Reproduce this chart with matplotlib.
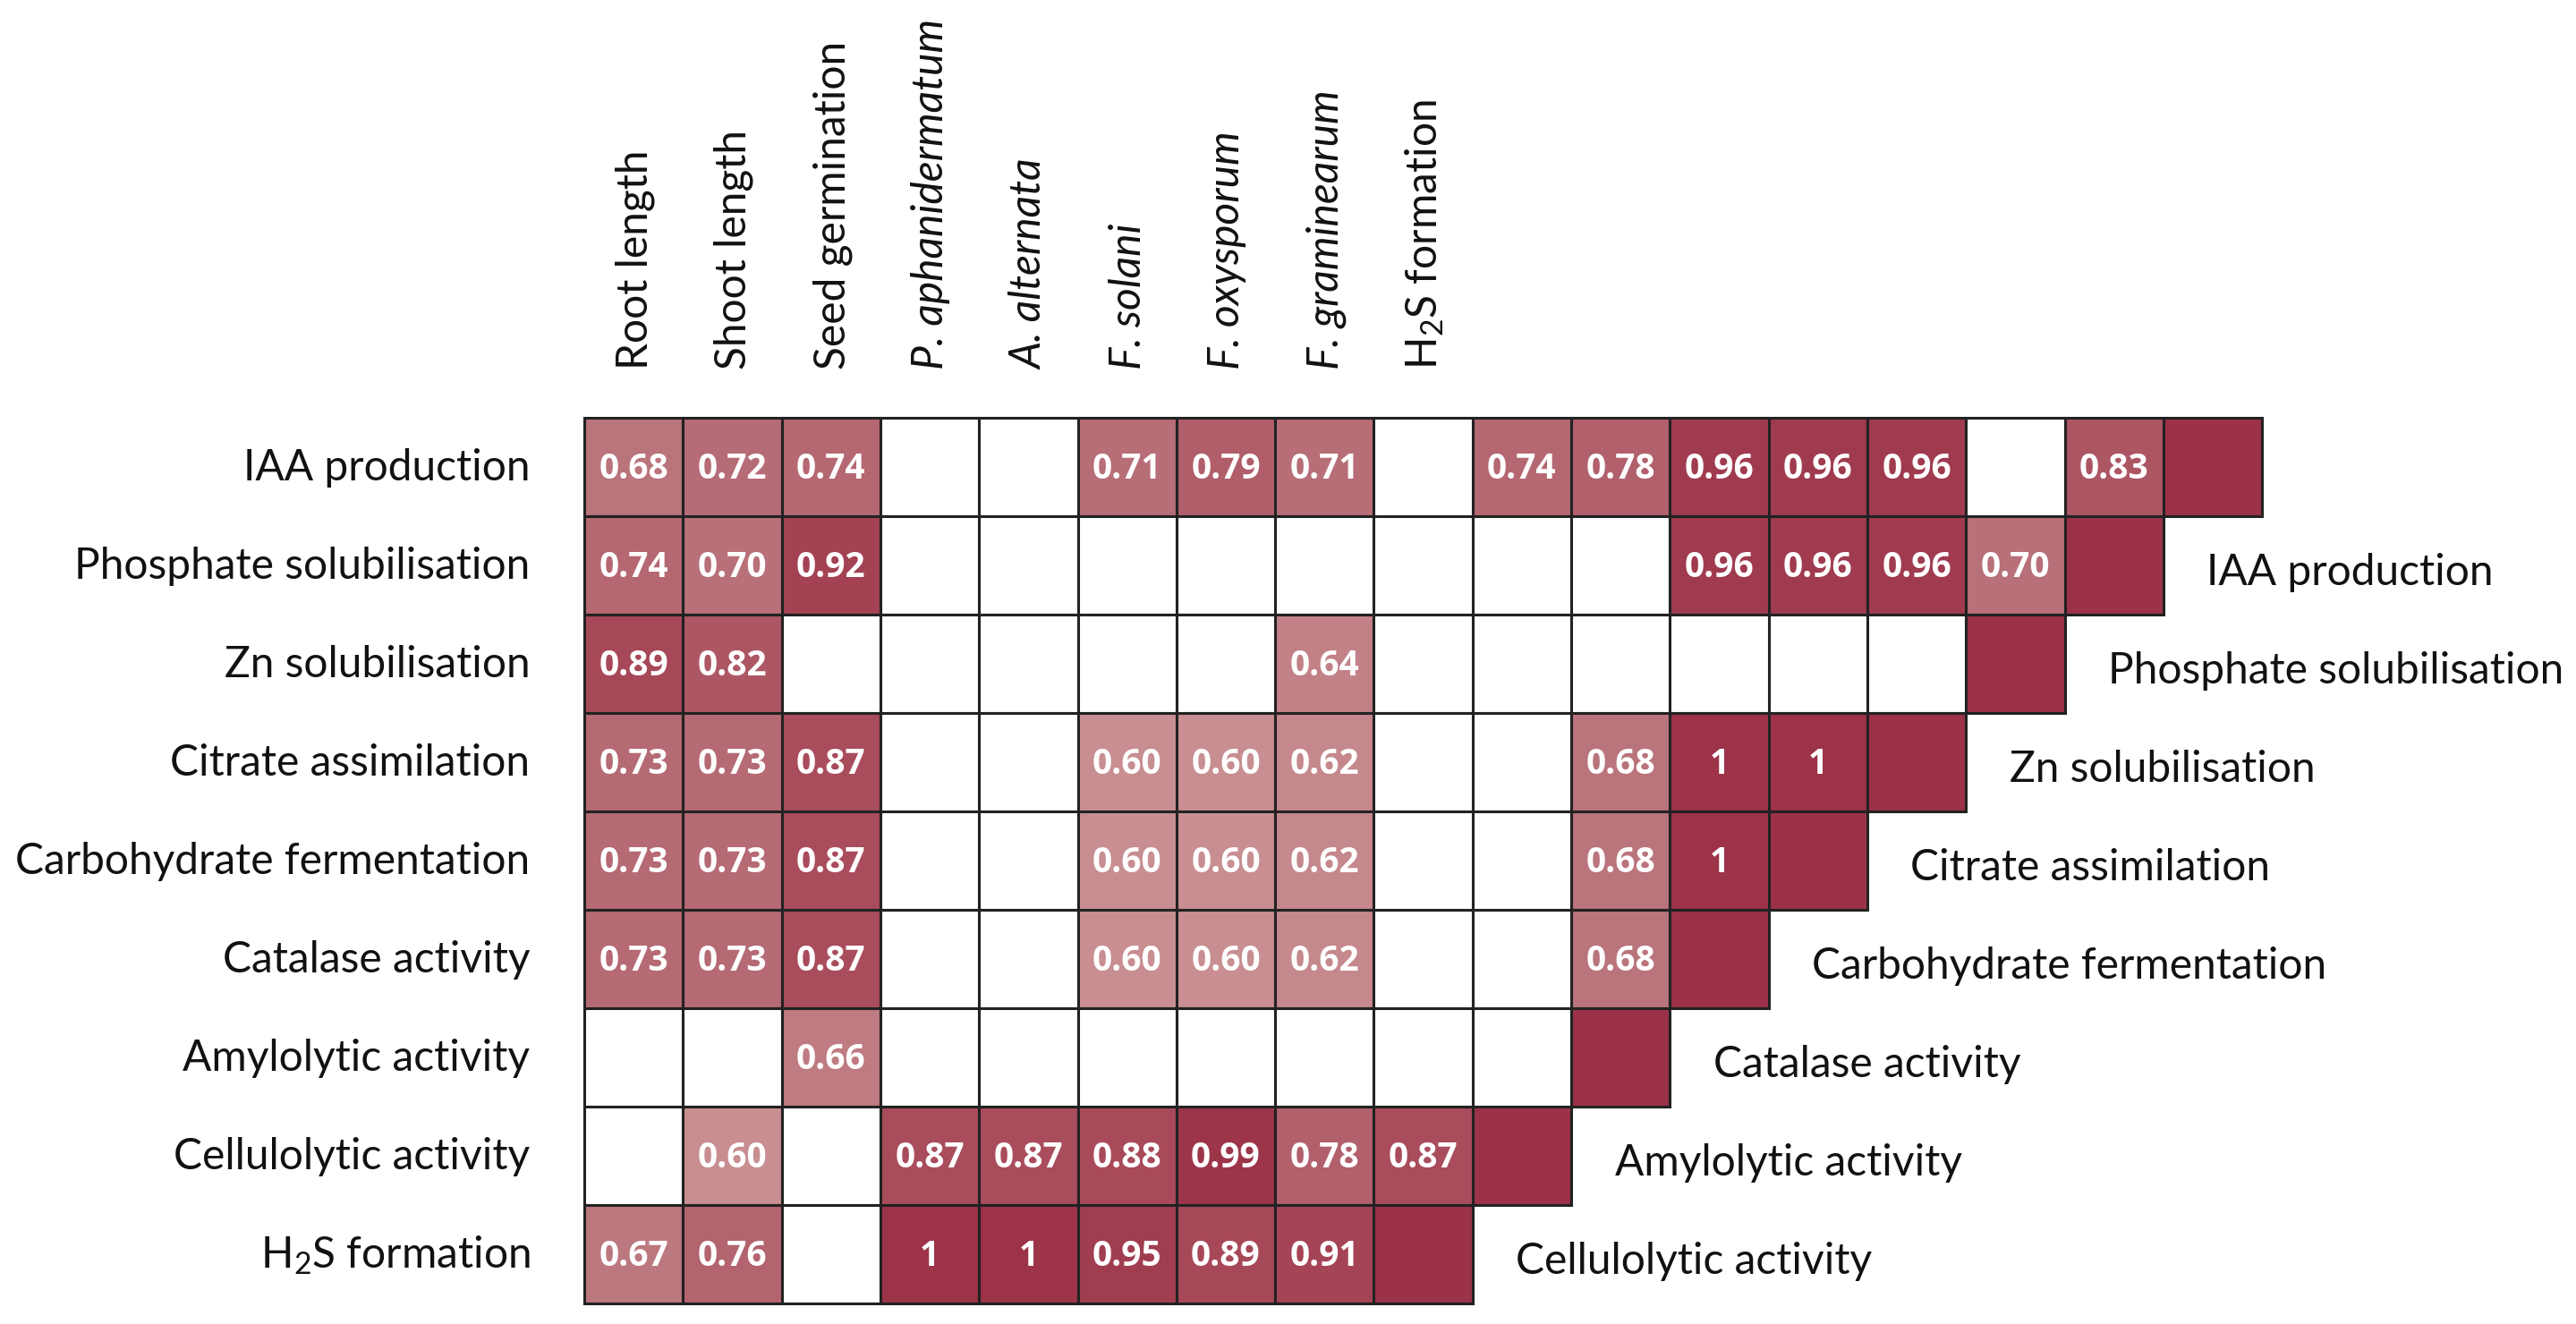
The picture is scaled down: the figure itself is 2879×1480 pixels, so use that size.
import matplotlib
matplotlib.use("Agg")
import matplotlib.pyplot as plt
from matplotlib.patches import Rectangle
from matplotlib.colors import LinearSegmentedColormap

plt.rcParams['font.family'] = ['Lato', 'DejaVu Sans']
plt.rcParams['mathtext.fontset'] = 'custom'
plt.rcParams['mathtext.rm'] = 'Lato'

# row traits (left side, top to bottom)
row_labels = ["IAA production", "Phosphate solubilisation", "Zn solubilisation",
              "Citrate assimilation", "Carbohydrate fermentation", "Catalase activity",
              "Amylolytic activity", "Cellulolytic activity", r"H$_\mathrm{2}$S formation"]

# top column labels (first 9 columns), italic flag for species names
col_labels = ["Root length", "Shoot length", "Seed germination", "P. aphanidermatum",
              "A. alternata", "F. solani", "F. oxysporum", "F. graminearum",
              r"H$_\mathrm{2}$S formation"]
col_italic = [False, False, False, True, True, True, True, True, False]

# labels written next to the diagonal (row i gets the name of row i-1)
diag_labels = row_labels[:-1]

N = None
# values per row, from column 0 up to the cell before the diagonal
values = [
    [0.68, 0.72, 0.74, N, N, 0.71, 0.79, 0.71, N, 0.74, 0.78, 0.96, 0.96, 0.96, N, 0.83],
    [0.74, 0.70, 0.92, N, N, N, N, N, N, N, N, 0.96, 0.96, 0.96, 0.70],
    [0.89, 0.82, N, N, N, N, N, 0.64, N, N, N, N, N, N],
    [0.73, 0.73, 0.87, N, N, 0.60, 0.60, 0.62, N, N, 0.68, 1, 1],
    [0.73, 0.73, 0.87, N, N, 0.60, 0.60, 0.62, N, N, 0.68, 1],
    [0.73, 0.73, 0.87, N, N, 0.60, 0.60, 0.62, N, N, 0.68],
    [N, N, 0.66, N, N, N, N, N, N, N],
    [N, 0.60, N, 0.87, 0.87, 0.88, 0.99, 0.78, 0.87],
    [0.67, 0.76, N, 1, 1, 0.95, 0.89, 0.91],
]

ncols = 17
nrows = len(row_labels)

cmap = LinearSegmentedColormap.from_list(
    "rd", [(0.0, "#c88e91"), (0.2, "#ba747c"), (0.45, "#b1606c"),
           (0.7, "#a84a5a"), (1.0, "#9c3349")])
vmin, vmax = 0.6, 1.0
diag_color = "#9b3249"
edge = "#222222"

W, H = 2879, 1480
fig = plt.figure(figsize=(W / 100, H / 100), dpi=100)
cw = 110.3
left, top = 653, 467
ax = fig.add_axes([left / W, (H - top - nrows * 110) / H, ncols * cw / W, nrows * 110 / H])
ax.set_xlim(0, ncols)
ax.set_ylim(nrows, 0)
ax.axis("off")

def fmt(v):
    return "1" if v == 1 else f"{v:.2f}"

for r, row in enumerate(values):
    for c, v in enumerate(row):
        if v is None:
            fc = "white"
        else:
            fc = cmap((v - vmin) / (vmax - vmin))
        ax.add_patch(Rectangle((c, r), 1, 1, facecolor=fc, edgecolor=edge,
                               linewidth=2.2, clip_on=False))
        if v is not None:
            ax.text(c + 0.5, r + 0.5 + 0.12, fmt(v), ha="center", va="baseline",
                    color="white", fontsize=28, fontweight="bold",
                    family=["Open Sans", "DejaVu Sans"])
    d = len(row)
    ax.add_patch(Rectangle((d, r), 1, 1, facecolor=diag_color, edgecolor=edge,
                           linewidth=2.2, clip_on=False))
    if r > 0:
        ax.text(d + 1 + 0.44, r + 0.5 + 0.2, diag_labels[r - 1], ha="left",
                va="baseline", fontsize=34.5, color="#111111")

for r, lab in enumerate(row_labels):
    ax.text(-0.55, r + 0.5 + 0.14, lab, ha="right", va="baseline",
            fontsize=34.5, color="#111111")

for c, lab in enumerate(col_labels):
    ax.text(c + 0.5 + 0.14, -0.49, lab, rotation=90, rotation_mode="anchor",
            ha="left", va="baseline", fontsize=34.5, color="#111111",
            style="italic" if col_italic[c] else "normal")

fig.savefig("out.png", dpi=100, facecolor="white")
